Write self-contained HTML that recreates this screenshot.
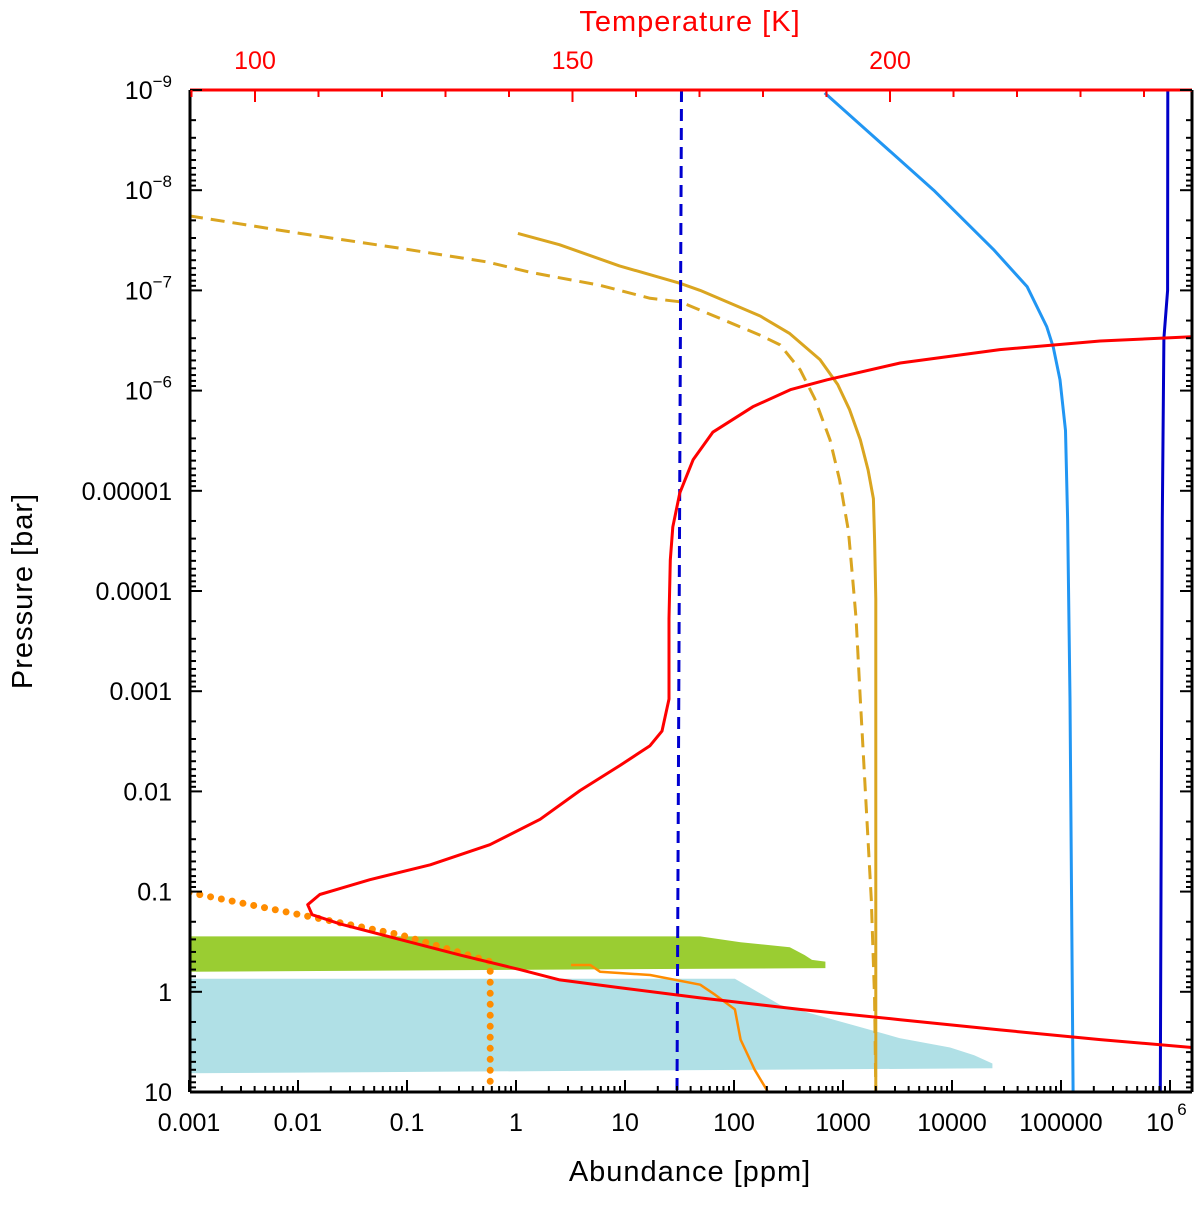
<!DOCTYPE html>
<html><head><meta charset="utf-8"><style>
html,body{margin:0;padding:0;background:#fff}
svg text{font-family:"Liberation Sans",sans-serif}
</style></head><body>
<svg id="chart" width="1200" height="1204" viewBox="0 0 1200 1204" xmlns="http://www.w3.org/2000/svg"></svg>
<script>
// ---- data ----
const redT = [247.6,233.1,217.3,201.6,190.1,184.3,178.4,172.1,169.0,166.9,165.8,165.4,165.2,165.2,164.1,162.2,157.5,151.2,144.9,137.0,127.6,118.1,110.2,108.3,109.0,113.4,122.8,132.3,141.7,148.0,157.5,170.1,185.8,201.6,217.3,233.1,247.6];
const redP = [2.9e-7,3.2e-7,3.9e-7,5.3e-7,7.8e-7,9.8e-7,1.45e-6,2.6e-6,4.9e-6,1.05e-5,2.3e-5,4.9e-5,1.9e-4,1.2e-3,2.5e-3,3.5e-3,5.5e-3,9.8e-3,0.019,0.034,0.054,0.076,0.107,0.135,0.17,0.21,0.30,0.43,0.60,0.76,0.91,1.15,1.5,1.9,2.4,3.0,3.6];
const goldA = [1.04,2.5,8.9,32,49,174,325,615,895,1150,1440,1700,1900,1950,2000,2000,2000];
const goldP = [2.7e-8,3.5e-8,5.7e-8,8.5e-8,1e-7,1.8e-7,2.7e-7,4.9e-7,8.7e-7,1.55e-6,3.1e-6,6.2e-6,1.2e-5,3.1e-5,1.2e-4,1.2e-3,10];
const goldDashA = [0.001,0.0104,0.087,0.54,1.35,5.9,17,32,74,174,265,405,550,760,930,1120,1230,1320,1440,1620,1820,1950,2000];
const goldDashP = [1.8e-8,2.7e-8,3.8e-8,5.2e-8,6.6e-8,8.9e-8,1.2e-7,1.3e-7,1.9e-7,2.8e-7,3.5e-7,6.2e-7,1.2e-6,3.1e-6,7.8e-6,2.5e-5,7.8e-5,1.9e-4,1.2e-3,0.012,0.12,1.2,10];
const skyA = [680,6800,24000,49000,74000,85000,98000,110000,115000,121000,129000];
const skyP = [1.07e-9,1e-8,3.9e-8,9.2e-8,2.3e-7,3.7e-7,7.8e-7,2.5e-6,1.9e-5,1.2e-3,10];
const navyA = [955000,950000,880000,850000,815000];
const navyP = [1e-9,1e-7,3e-7,1.9e-5,10];
const vDashA = [33,30];
const vDashP = [1e-9,10];
const dotA = [0.001,0.0104,0.087,0.58,0.58,0.58];
const dotP = [0.102,0.17,0.27,0.50,0.68,8.5];
const orgA = [3.2,4.8,5.9,17,49,67,102,115,155,205];
const orgP = [0.54,0.54,0.63,0.68,0.85,1.07,1.5,3.0,6.0,10];
const greenA = [0.001,49,115,325,445,520,690,690,0.001];
const greenP = [0.28,0.28,0.32,0.36,0.43,0.48,0.50,0.58,0.63];
const cloudA = [0.001,102,265,1150,3300,9600,16000,23500,23500,0.001];
const cloudP = [0.74,0.74,1.35,2.1,2.9,3.6,4.3,5.2,5.8,6.5];
const xTicks = [0.001,0.01,0.1,1,10,100,1000,10000,100000];
const xTickLabels = ["0.001","0.01","0.1","1","10","100","1000","10000","100000"];
const yTickLabels = ["10⁻⁹","10⁻⁸","10⁻⁷","10⁻⁶","0.00001","0.0001","0.001","0.01","0.1","1","10"];
const tTicks = [100,150,200];

// ---- axes ----
const L=190,R=1192,T=90,B=1092;
const X0=189, DEC=109;
const xA = a => X0 + (Math.log10(a)+3)*DEC;
const yP = p => T + (Math.log10(p)+9)*100.2;
const xT = t => 255 + (t-100)*6.35;
const NS="http://www.w3.org/2000/svg";
const svg=document.getElementById('chart');
function mk(tag,attrs,parent){const e=document.createElementNS(NS,tag);for(const k in attrs)e.setAttribute(k,attrs[k]);(parent||svg).appendChild(e);return e;}
function pts(xs,ys,fx,fy){return xs.map((v,i)=>fx(v).toFixed(1)+','+fy(ys[i]).toFixed(1)).join(' ');}

const clip=mk('clipPath',{id:'pc'});mk('rect',{x:L,y:T,width:R-L,height:B-T},clip);
const plot=mk('g',{'clip-path':'url(#pc)','stroke-linejoin':'round'});


let e;
e=mk('polygon',{points:pts(cloudA,cloudP,xA,yP),fill:'#b0e0e6'},plot);

e=mk('polygon',{points:pts(greenA,greenP,xA,yP),fill:'#9acd32'},plot);

e=mk('polyline',{points:pts(goldDashA,goldDashP,xA,yP),fill:'none',stroke:'#daa520','stroke-width':3,'stroke-dasharray':'14 8'},plot);

e=mk('polyline',{points:pts(goldA,goldP,xA,yP),fill:'none',stroke:'#daa520','stroke-width':3},plot);

e=mk('polyline',{points:pts(skyA,skyP,xA,yP),fill:'none',stroke:'#2196f3','stroke-width':3},plot);

e=mk('polyline',{points:pts(navyA,navyP,xA,yP),fill:'none',stroke:'#0000c8','stroke-width':3},plot);

e=mk('polyline',{points:pts(vDashA,vDashP,xA,yP),fill:'none',stroke:'#0000d0','stroke-width':3,'stroke-dasharray':'12 7'},plot);

e=mk('polyline',{points:pts(orgA,orgP,xA,yP),fill:'none',stroke:'#ff8c00','stroke-width':2.5},plot);

e=mk('polyline',{points:pts(dotA,dotP,xA,yP),fill:'none',stroke:'#ff8c00','stroke-width':7,'stroke-linecap':'round','stroke-dasharray':'0 11'},plot);

e=mk('polyline',{points:pts(redT,redP,xT,yP),fill:'none',stroke:'#ff0000','stroke-width':3},plot);


// frame
e=mk('line',{x1:L,y1:B,x2:R,y2:B,stroke:'#000','stroke-width':3});

e=mk('line',{x1:L,y1:T,x2:L,y2:B,stroke:'#000','stroke-width':3});

e=mk('line',{x1:R,y1:T,x2:R,y2:B,stroke:'#000','stroke-width':3});

e=mk('line',{x1:L,y1:T,x2:R,y2:T,stroke:'#ff0000','stroke-width':3});


// bottom ticks
for(let d=-3;d<=6;d++){
  for(let m=1;m<10;m++){
    const x=X0+(d+3)*DEC+Math.log10(m)*DEC;
    if(x>R||x<L-1)continue;
    const len=m===1?12:6;
    mk('line',{x1:x,y1:B,x2:x,y2:B-len,stroke:'#000','stroke-width':2});
  }
}
xTicks.forEach((v,i)=>{
  const t=mk('text',{x:xA(v),y:1131,'text-anchor':'middle','font-size':25});
  t.textContent=xTickLabels[i];
  
});
e=mk('text',{x:1160,y:1131,'text-anchor':'middle','font-size':25});e.textContent='10';

e=mk('text',{x:1182,y:1115,'text-anchor':'middle','font-size':17});e.textContent='6';


// left/right ticks
for(let d=-9;d<=1;d++){
  for(let m=1;m<10;m++){
    const y=T+(d+9)*100.2+Math.log10(m)*100.2;
    if(y>B+1)continue;
    const len=m===1?12:6;
    mk('line',{x1:L,y1:y,x2:L+len,y2:y,stroke:'#000','stroke-width':2});
    mk('line',{x1:R,y1:y,x2:R-len,y2:y,stroke:'#000','stroke-width':2});
  }
}
yTickLabels.forEach((s,i)=>{
  const y=yP(Math.pow(10,i-9));
  const t=mk('text',{x:172,y:y+9,'text-anchor':'end','font-size':25});
  if(i<4){
    t.textContent='10';
    const s2=mk('tspan',{'font-size':17,dy:-12});s2.textContent='−'+(9-i);t.appendChild(s2);
  } else t.textContent=s;
  
});

// top ticks
for(let tk=90;tk<=245;tk+=10){
  const x=xT(tk);if(x<L||x>R)continue;
  mk('line',{x1:x,y1:T,x2:x,y2:T+(tk%50===0?12:7),stroke:'#ff0000','stroke-width':2});
}
tTicks.forEach(v=>{
  const t=mk('text',{x:xT(v),y:69,'text-anchor':'middle','font-size':25,fill:'#ff0000'});
  t.textContent=v;
  
});

e=mk('text',{x:690,y:1181,'text-anchor':'middle','font-size':29,'letter-spacing':'1'});e.textContent='Abundance [ppm]';

e=mk('text',{x:690,y:31,'text-anchor':'middle','font-size':29,fill:'#ff0000','letter-spacing':'1'});e.textContent='Temperature [K]';

e=mk('text',{x:32,y:591,'text-anchor':'middle','font-size':29,'letter-spacing':'1',transform:'rotate(-90 32 591)'});e.textContent='Pressure [bar]';

</script>
</body></html>
